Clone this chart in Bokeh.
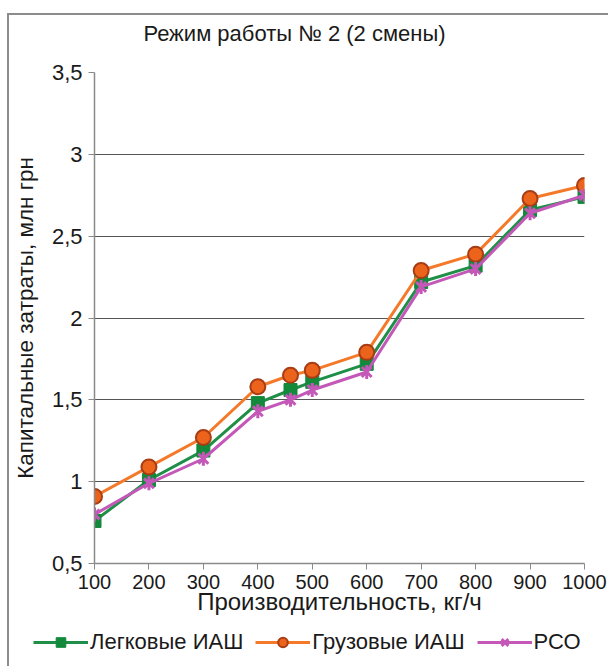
from bokeh.plotting import figure
from bokeh.models import FixedTicker, CustomJSTickFormatter, Legend, LegendItem, Label
from bokeh.embed import file_html
from bokeh.resources import INLINE

# ---- data ----
x_vals = [100, 200, 300, 400, 460, 500, 600, 700, 800, 900, 1000]
legkovye = [0.76, 1.01, 1.19, 1.48, 1.56, 1.61, 1.72, 2.22, 2.32, 2.66, 2.74]
gruzovye = [0.91, 1.09, 1.27, 1.58, 1.65, 1.68, 1.79, 2.29, 2.39, 2.73, 2.81]
rso = [0.80, 0.99, 1.14, 1.43, 1.50, 1.56, 1.67, 2.19, 2.30, 2.64, 2.75]
x_ticks = [100, 200, 300, 400, 500, 600, 700, 800, 900, 1000]
y_ticks = [0.5, 1.0, 1.5, 2.0, 2.5, 3.0, 3.5]
series_names = ["Легковые ИАШ", "Грузовые ИАШ", "РСО"]
title_text = "Режим работы № 2 (2 смены)"
x_label = "Производительность, кг/ч"
y_label = "Капитальные затраты, млн грн"

FONT = "'Liberation Sans', Arial, sans-serif"
BORDER = "2px solid #8c8c8c"

GREEN = "#1f8f48"
GREEN_M = "#12893b"
ORANGE = "#f47a2a"
ORANGE_F = "#ec641c"
ORANGE_E = "#a83c14"
PINK = "#c458b8"


def strip(height, top_margin=0, top_border=False):
    f = figure(width=601, height=height, output_backend="svg", toolbar_location=None,
               x_range=(0, 601), y_range=(0, height), x_axis_type=None, y_axis_type=None,
               min_border=0)
    f.margin = (top_margin, 0, 0, 7)
    st = {"border-left": BORDER}
    if top_border:
        st["border-top"] = BORDER
    f.styles = st
    f.outline_line_color = None
    f.grid.visible = False
    return f


# ---- title strip ----
tf = strip(47, top_margin=13, top_border=True)
tf.add_layout(Label(x=285, y=29, text=title_text, text_align="center", text_baseline="middle",
                    text_font=FONT, text_font_size="22px", text_color="#1a1a1a"))

# ---- main chart ----
p = figure(width=601, height=558, output_backend="svg", toolbar_location=None,
           x_range=(100, 1000), y_range=(0.5, 3.5),
           min_border_left=84, min_border_right=26, min_border_top=12, min_border_bottom=55)
p.margin = (0, 0, 0, 7)
p.styles = {"border-left": BORDER}
p.outline_line_color = None
p.background_fill_color = "white"
p.border_fill_color = "white"

p.xaxis.ticker = FixedTicker(ticks=x_ticks)
p.yaxis.ticker = FixedTicker(ticks=y_ticks)
p.yaxis.formatter = CustomJSTickFormatter(code="return tick.toString().replace('.', ',');")
for ax in (p.xaxis, p.yaxis):
    ax.axis_line_color = "#8a8a8a"
    ax.axis_line_width = 1.5
    ax.major_tick_line_color = "#8a8a8a"
    ax.major_tick_out = 6
    ax.major_tick_in = 0
    ax.minor_tick_line_color = None
    ax.major_label_text_font = FONT
    ax.major_label_text_color = "#1a1a1a"
    ax.axis_label_text_font = FONT
    ax.axis_label_text_font_style = "normal"
    ax.axis_label_text_color = "#1a1a1a"
p.xaxis.major_label_text_font_size = "20px"
p.yaxis.major_label_text_font_size = "22px"
p.xaxis.axis_label = x_label
p.yaxis.axis_label = y_label
p.xaxis.axis_label_text_font_size = "24px"
p.yaxis.axis_label_text_font_size = "22.5px"
p.xaxis.major_label_standoff = 5
p.xaxis.axis_label_standoff = -4
p.yaxis.major_label_standoff = 6
p.yaxis.axis_label_standoff = 11

p.xgrid.grid_line_color = None
p.ygrid.grid_line_color = "#555555"
p.ygrid.grid_line_width = 1.2


def draw_series(fig):
    r = {}
    r["gl"] = fig.line(x_vals, legkovye, line_color=GREEN, line_width=3)
    r["gm"] = fig.scatter(x_vals, legkovye, marker="square", size=13, fill_color=GREEN_M, line_color=GREEN_M)
    r["ol"] = fig.line(x_vals, gruzovye, line_color=ORANGE, line_width=3)
    r["om"] = fig.scatter(x_vals, gruzovye, marker="circle", size=15, fill_color=ORANGE_F,
                          line_color=ORANGE_E, line_width=2)
    r["pl"] = fig.line(x_vals, rso, line_color=PINK, line_width=3)
    r["pm1"] = fig.scatter(x_vals, rso, marker="x", size=14, line_color=PINK, line_width=3)
    r["pm2"] = fig.scatter(x_vals, rso, marker="dash", size=14, angle=1.5708, line_color=PINK, line_width=3)
    return r


draw_series(p)

# ---- legend strip (its own copies of the series lie outside its view) ----
lf = strip(48)
lf.x_range.start, lf.x_range.end = -5000, -4399
r = draw_series(lf)
legend = Legend(items=[
    LegendItem(label=series_names[0], renderers=[r["gl"], r["gm"]]),
    LegendItem(label=series_names[1], renderers=[r["ol"], r["om"]]),
    LegendItem(label=series_names[2], renderers=[r["pl"], r["pm1"], r["pm2"]]),
], orientation="horizontal", location=(24, 11))
legend.glyph_width = 55
legend.glyph_height = 24
legend.label_standoff = 2
legend.spacing = 12
legend.padding = 0
legend.margin = 0
legend.border_line_color = None
legend.background_fill_alpha = 0
legend.label_text_font = FONT
legend.label_text_font_size = "22px"
legend.label_text_color = "#1a1a1a"
legend.label_height = 24
lf.add_layout(legend)

open("out.html", "w").write(file_html([tf, p, lf], INLINE))
